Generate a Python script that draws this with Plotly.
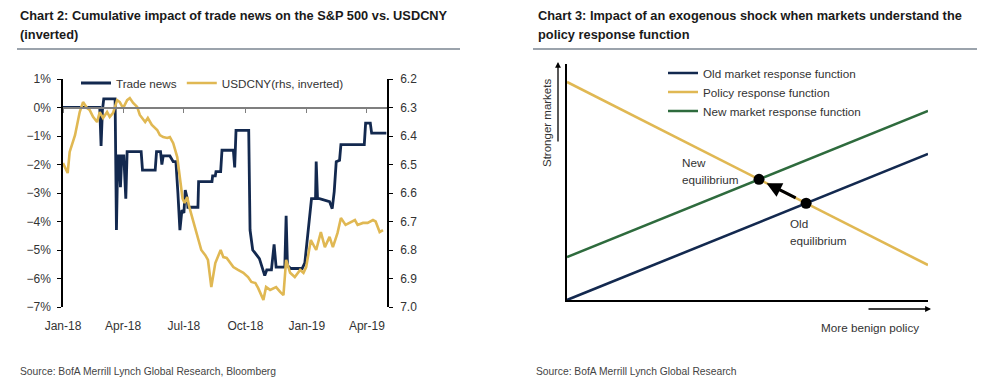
import plotly.graph_objects as go

W, H = 986, 381

# ---------------- Chart 2 data ----------------
trade_dates = [
    "2018-01-01", "2018-02-25", "2018-02-27", "2018-03-01", "2018-03-03", "2018-03-20",
    "2018-03-22", "2018-03-24", "2018-03-26", "2018-03-28", "2018-03-30", "2018-04-02",
    "2018-04-05", "2018-04-07", "2018-04-28", "2018-04-30", "2018-05-19", "2018-05-21",
    "2018-05-27", "2018-05-29", "2018-05-31", "2018-06-10", "2018-06-15", "2018-06-19",
    "2018-06-22", "2018-06-25", "2018-06-28", "2018-07-01", "2018-07-03", "2018-07-06",
    "2018-07-07", "2018-07-22", "2018-07-23", "2018-08-12", "2018-08-13", "2018-08-17",
    "2018-08-18", "2018-08-25", "2018-08-27", "2018-09-13", "2018-09-15", "2018-09-17",
    "2018-10-06", "2018-10-08", "2018-10-12", "2018-10-18", "2018-10-22", "2018-10-30",
    "2018-11-02", "2018-11-09", "2018-11-13", "2018-11-16", "2018-11-29", "2018-12-01",
    "2018-12-03", "2018-12-08", "2018-12-25", "2018-12-29", "2019-01-02", "2019-01-08",
    "2019-01-14", "2019-01-15", "2019-01-17", "2019-01-20", "2019-02-04", "2019-02-08",
    "2019-02-11", "2019-02-14", "2019-02-19", "2019-02-21", "2019-03-28", "2019-03-30",
    "2019-04-06", "2019-04-08", "2019-04-30",
]
trade_values = [
    0.0, 0.0, -1.35, -0.1, 0.3, 0.3,
    -4.3, -1.7, -1.7, -2.8, -1.7, -1.7,
    -3.2, -1.55, -1.55, -2.2, -2.2, -1.55,
    -1.55, -2.0, -1.7, -1.7, -1.9, -1.9,
    -3.0, -4.3, -3.6, -3.7, -2.9, -3.2,
    -3.5, -3.5, -2.6, -2.6, -2.4, -2.4,
    -2.25, -2.25, -1.5, -1.5, -2.1, -0.8,
    -0.8, -4.3, -5.0, -5.2, -5.3, -5.9,
    -5.7, -5.7, -4.8, -5.6, -5.6, -3.8,
    -5.55, -5.65, -5.65, -5.45, -4.6, -3.2,
    -3.2, -1.9, -3.2, -3.2, -3.3, -3.55,
    -2.95, -1.9, -1.85, -1.3, -1.3, -0.55,
    -0.55, -0.9, -0.9,
]

cny_dates = [
    "2018-01-01", "2018-01-08", "2018-01-11", "2018-01-19", "2018-01-26", "2018-01-31",
    "2018-02-06", "2018-02-10", "2018-02-15", "2018-02-21", "2018-02-25", "2018-03-02",
    "2018-03-08", "2018-03-12", "2018-03-17", "2018-03-23", "2018-03-27", "2018-04-01",
    "2018-04-07", "2018-04-11", "2018-04-16", "2018-04-22", "2018-04-26", "2018-05-04",
    "2018-05-08", "2018-05-14", "2018-05-22", "2018-05-26", "2018-05-31", "2018-06-06",
    "2018-06-10", "2018-06-15", "2018-06-21", "2018-06-25", "2018-06-29", "2018-07-02",
    "2018-07-06", "2018-07-09", "2018-07-13", "2018-07-19", "2018-07-23", "2018-07-27",
    "2018-08-02", "2018-08-06", "2018-08-11", "2018-08-17", "2018-08-25", "2018-08-29",
    "2018-09-03", "2018-09-09", "2018-09-13", "2018-09-20", "2018-09-28", "2018-10-05",
    "2018-10-10", "2018-10-16", "2018-10-20", "2018-10-28", "2018-11-01", "2018-11-07",
    "2018-11-12", "2018-11-16", "2018-11-22", "2018-11-27", "2018-12-01", "2018-12-07",
    "2018-12-14", "2018-12-22", "2018-12-27", "2018-12-31", "2019-01-07", "2019-01-15",
    "2019-01-22", "2019-01-28", "2019-02-04", "2019-02-09", "2019-02-16", "2019-02-21",
    "2019-02-28", "2019-03-06", "2019-03-14", "2019-03-18", "2019-03-26", "2019-04-02",
    "2019-04-10", "2019-04-14", "2019-04-20", "2019-04-25",
]
cny_values = [
    6.495, 6.53, 6.456, 6.397, 6.316, 6.281,
    6.302, 6.309, 6.333, 6.351, 6.316, 6.337,
    6.316, 6.333, 6.319, 6.274, 6.281, 6.302,
    6.274, 6.267, 6.284, 6.298, 6.326, 6.351,
    6.337, 6.361, 6.379, 6.397, 6.404, 6.407,
    6.404, 6.425, 6.474, 6.55, 6.62, 6.635,
    6.614, 6.649, 6.684, 6.74, 6.772, 6.80,
    6.818, 6.835, 6.93, 6.846, 6.80, 6.825,
    6.828, 6.846, 6.86, 6.87, 6.88, 6.895,
    6.912, 6.916, 6.933, 6.975, 6.93, 6.94,
    6.933, 6.93, 6.947, 6.958, 6.835, 6.88,
    6.895, 6.87, 6.88, 6.86, 6.765, 6.80,
    6.737, 6.79, 6.754, 6.79, 6.74, 6.688,
    6.712, 6.705, 6.695, 6.712, 6.705, 6.705,
    6.695, 6.70, 6.737, 6.73,
]

left_range = [-7, 1]
right_range = [7.0, 6.2]
date_range = ["2018-01-01", "2019-05-01"]

# ---------------- Chart 3 data (conceptual) ----------------
concept_x = [0, 10]
old_market = [0.0, 6.19]
policy = [9.24, 1.48]
new_market = [1.82, 8.01]


def line_params(ys):
    m = (ys[1] - ys[0]) / (concept_x[1] - concept_x[0])
    return m, ys[0] - m * concept_x[0]


def intersect(a, b):
    ma, ca = line_params(a)
    mb, cb = line_params(b)
    x = (cb - ca) / (ma - mb)
    return x, ma * x + ca


old_eq = intersect(policy, old_market)
new_eq = intersect(policy, new_market)

NAVY = "#13294F"
GOLD = "#E0B853"
GREEN = "#2E6B3D"
FONT = "Liberation Sans, Arial, sans-serif"
TXT = "#333333"


def px(p):
    return p / W


def py(p):
    return 1 - p / H


fig = go.Figure()

# Chart 2 traces
fig.add_trace(go.Scatter(x=trade_dates, y=trade_values, name="Trade news", mode="lines",
                         line=dict(color=NAVY, width=2.8), xaxis="x", yaxis="y",
                         legend="legend"))
fig.add_trace(go.Scatter(x=cny_dates, y=cny_values, name="USDCNY(rhs, inverted)", mode="lines",
                         line=dict(color=GOLD, width=2.6), xaxis="x", yaxis="y2",
                         legend="legend"))
# helper (invisible) trace so the zero-line axis gets drawn
fig.add_trace(go.Scatter(x=date_range, y=[None, None], mode="lines", showlegend=False,
                         hoverinfo="skip", xaxis="x2", yaxis="y"))

# Chart 3 traces
fig.add_trace(go.Scatter(x=concept_x, y=old_market, name="Old market response function",
                         mode="lines", line=dict(color=NAVY, width=2.6), xaxis="x3", yaxis="y3",
                         legend="legend2"))
fig.add_trace(go.Scatter(x=concept_x, y=policy, name="Policy response function",
                         mode="lines", line=dict(color=GOLD, width=2.6), xaxis="x3", yaxis="y3",
                         legend="legend2"))
fig.add_trace(go.Scatter(x=concept_x, y=new_market, name="New market response function",
                         mode="lines", line=dict(color=GREEN, width=2.6), xaxis="x3", yaxis="y3",
                         legend="legend2"))
fig.add_trace(go.Scatter(x=[old_eq[0], new_eq[0]], y=[old_eq[1], new_eq[1]], mode="markers",
                         marker=dict(color="black", size=11), showlegend=False,
                         cliponaxis=False, xaxis="x3", yaxis="y3"))

# layout geometry
ldom_x = [px(63), px(387)]
ldom_y = [py(307), py(79)]
zero_pos = ldom_y[0] + (0 - left_range[0]) / (left_range[1] - left_range[0]) * (ldom_y[1] - ldom_y[0])

tickfont = dict(family=FONT, size=12, color=TXT)

fig.update_layout(
    width=W, height=H, autosize=False,
    margin=dict(l=0, r=0, t=0, b=0, pad=0, autoexpand=False),
    paper_bgcolor="white", plot_bgcolor="rgba(0,0,0,0)",
    font=dict(family=FONT, size=12, color=TXT),
    xaxis=dict(domain=ldom_x, range=date_range, anchor="y", type="date", automargin=False,
               showline=False, showgrid=False, zeroline=False,
               ticks="outside", ticklen=8, tickcolor="rgba(0,0,0,0)",
               tick0="2018-01-01", dtick="M3", tickformat="%b-%y", tickfont=tickfont),
    xaxis2=dict(overlaying="x", anchor="free", position=zero_pos, range=date_range, type="date",
                automargin=False,
                showline=True, linecolor="#7f7f7f", linewidth=2,
                ticks="outside", ticklen=4, tickcolor="#7f7f7f", tickwidth=1,
                tick0="2018-01-01", dtick="M3", showticklabels=False,
                showgrid=False, zeroline=False),
    yaxis=dict(domain=ldom_y, range=left_range, anchor="x", dtick=1, ticksuffix="%",
               automargin=False,
               showline=True, linecolor="black", linewidth=1.5,
               ticks="outside", ticklen=4, tickcolor="black",
               showgrid=False, zeroline=False, tickfont=tickfont, ticklabelstandoff=4),
    yaxis2=dict(overlaying="y", side="right", anchor="x", range=right_range, dtick=0.1,
                automargin=False,
                tickformat=".1f", showline=True, linecolor="black", linewidth=1.5,
                ticks="outside", ticklen=4, tickcolor="black",
                showgrid=False, zeroline=False, tickfont=tickfont, ticklabelstandoff=5),
    xaxis3=dict(domain=[px(567), px(928)], range=[0, 10], anchor="y3", automargin=False,
                showline=True, linecolor="black", linewidth=1.5, ticks="",
                showticklabels=False, showgrid=False, zeroline=False),
    yaxis3=dict(domain=[py(300), py(64)], range=[0, 10], anchor="x3", automargin=False,
                showline=True, linecolor="black", linewidth=1.5, ticks="",
                showticklabels=False, showgrid=False, zeroline=False),
    legend=dict(orientation="h", x=px(76), y=py(83), xanchor="left", yanchor="middle",
                bgcolor="rgba(0,0,0,0)", font=dict(family=FONT, size=11.7, color=TXT),
                itemwidth=30, tracegroupgap=0),
    legend2=dict(orientation="v", x=px(663), y=py(92), xanchor="left", yanchor="middle",
                 bgcolor="rgba(0,0,0,0)", font=dict(family=FONT, size=11.7, color=TXT),
                 itemwidth=30, tracegroupgap=0),
    showlegend=True,
)

ann = []
title_font = dict(family=FONT, size=12.8, color="#1a1a1a")


def text(x, y, s, size=11.7, anchor="left", color=TXT, angle=0, fnt=None):
    ann.append(dict(x=px(x), y=py(y), xref="paper", yref="paper", text=s, showarrow=False,
                    xanchor=anchor, yanchor="middle", textangle=angle,
                    font=fnt or dict(family=FONT, size=size, color=color)))


text(18, 15, "<b>Chart 2: Cumulative impact of trade news on the S&P 500 vs. USDCNY</b>", fnt=title_font)
text(18, 34, "<b>(inverted)</b>", fnt=title_font)
text(536, 15, "<b>Chart 3: Impact of an exogenous shock when markets understand the</b>", fnt=title_font)
text(536, 34, "<b>policy response function</b>", fnt=title_font)
text(18, 371, "Source: BofA Merrill Lynch Global Research, Bloomberg", size=10.3, color="#444444")
text(534, 371, "Source: BofA Merrill Lynch Global Research", size=10.3, color="#444444")
text(547, 123, "Stronger markets", size=11.5, anchor="center", angle=-90)
text(921, 327, "More benign policy", anchor="right")
text(680, 162, "New")
text(680, 179, "equilibrium")
text(788, 223, "Old")
text(788, 240, "equilibrium")

# axis arrows
ann.append(dict(x=px(558), y=py(62), xref="paper", yref="paper", ax=0, ay=81, text="",
                showarrow=True, arrowhead=2, arrowsize=0.9, arrowwidth=1.3, arrowcolor="black"))
ann.append(dict(x=px(931), y=py(309), xref="paper", yref="paper", ax=-64, ay=0, text="",
                showarrow=True, arrowhead=2, arrowsize=0.9, arrowwidth=1.3, arrowcolor="black"))
# equilibrium shift arrow
tail = (old_eq[0] + 0.19 * (new_eq[0] - old_eq[0]), old_eq[1] + 0.19 * (new_eq[1] - old_eq[1]))
head = (old_eq[0] + 0.84 * (new_eq[0] - old_eq[0]), old_eq[1] + 0.84 * (new_eq[1] - old_eq[1]))
ann.append(dict(x=head[0], y=head[1], xref="x3", yref="y3", ax=tail[0], ay=tail[1],
                axref="x3", ayref="y3", text="", showarrow=True, arrowhead=2,
                arrowsize=1, arrowwidth=3, arrowcolor="black"))

fig.update_layout(annotations=ann)

# title rules
fig.add_shape(type="line", xref="paper", yref="paper", x0=px(17), x1=px(460), y0=py(49), y1=py(49),
              line=dict(color="#7a8591", width=1.5))
fig.add_shape(type="line", xref="paper", yref="paper", x0=px(533), x1=px(977), y0=py(49), y1=py(49),
              line=dict(color="#7a8591", width=1.5))

fig.write_html("out.html", config={"displayModeBar": False},
               post_script="document.body.style.margin='0px';")
